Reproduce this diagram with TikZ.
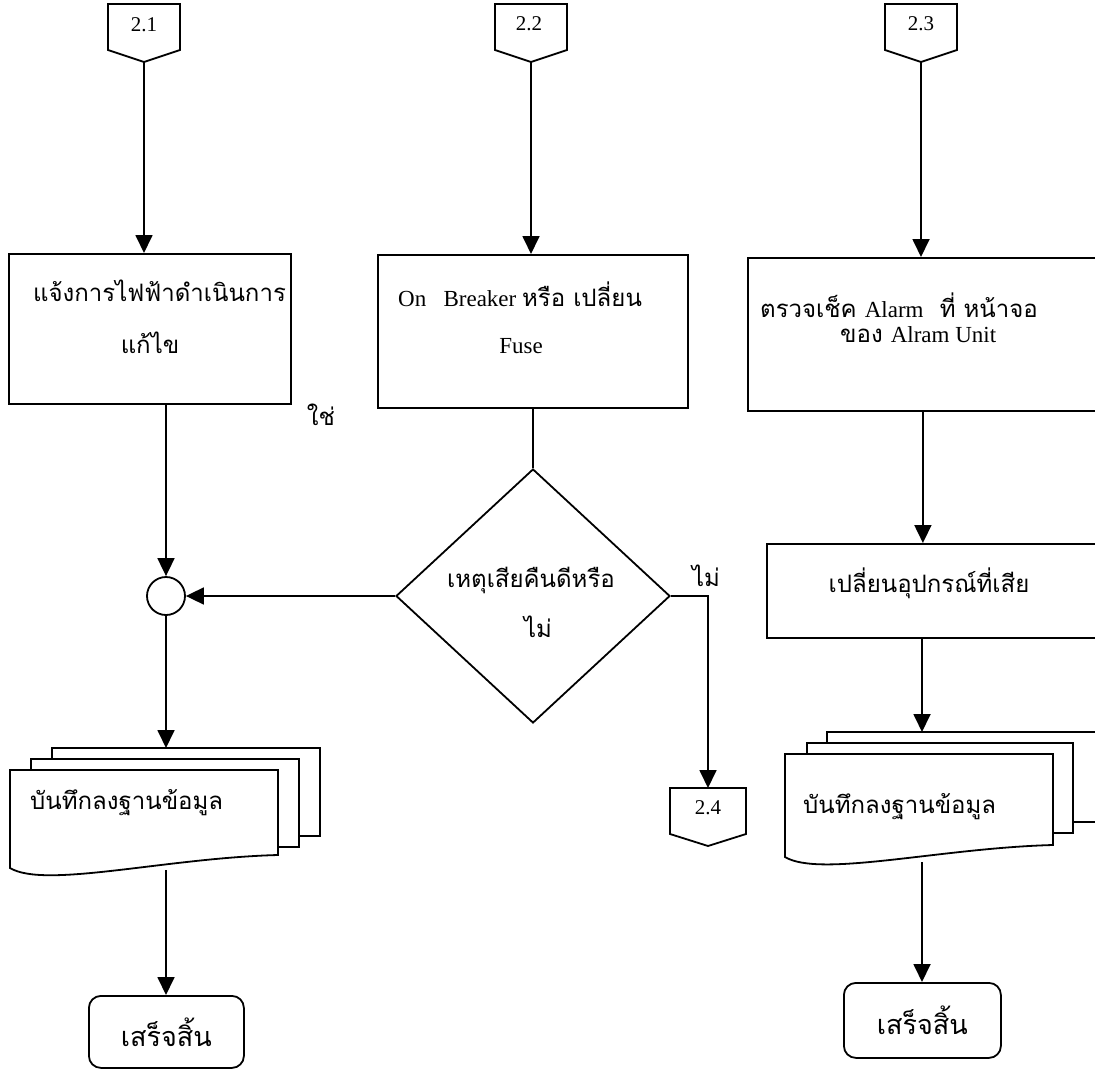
\documentclass[tikz,border=0pt]{standalone}
\usepackage{fontspec}
\setmainfont{Liberation Serif}
\newfontfamily\thaifont[Script=Thai]{Loma}
\usetikzlibrary{arrows.meta,shapes.geometric}

% Thai and Latin text sizes
\newcommand\tf{\thaifont\fontsize{24}{28}\selectfont}
\newcommand\tfl{\thaifont\fontsize{27}{30}\selectfont}
\newcommand\lf{\rmfamily\fontsize{23}{27}\selectfont}

\tikzset{
  ln/.style={line width=1.8pt},
  flow/.style={ln, -{Triangle[length=18pt,width=17pt]}},
  procbox/.style={draw, ln, rectangle, anchor=north west, inner sep=0pt},
  decision/.style={draw, ln, diamond, inner sep=0pt},
  junction/.style={draw, ln, circle, minimum size=38pt, inner sep=0pt},
  term/.style={draw, ln, rectangle, rounded corners=12pt, anchor=north west, inner sep=0pt},
  page/.style={ln, draw, fill=white, line join=miter},
  txt/.style={inner sep=0pt, font=\tf},
  num/.style={inner sep=0pt, font=\rmfamily\fontsize{21}{24}\selectfont},
}

% off-page connector: centre x, top y, half width, name
\newcommand\offpage[4]{%
  \draw[ln] (#1-#3,#2) -- (#1+#3,#2) -- (#1+#3,#2+46) -- (#1,#2+58)
    -- (#1-#3,#2+46) -- cycle;
  \coordinate (#4top) at (#1,#2);
  \coordinate (#4tip) at (#1,#2+58);
}

\begin{document}
\begin{tikzpicture}[x=1pt,y=-1pt]
\useasboundingbox (0,0) rectangle (1095,1070);
\clip (0,0) rectangle (1095,1070);

% off-page connectors
\offpage{144}{4}{36}{ca}
\offpage{531}{4}{36}{cb}
\offpage{921}{4}{36}{cc}
\offpage{708}{788}{38}{cd}
\node[num] (la) at (144,25) {2.1};
\node[num] (lb) at (529,24) {2.2};
\node[num] (lc) at (921,24) {2.3};
\node[num] (ld) at (708,808) {2.4};

% process boxes
\node[procbox, minimum width=282pt, minimum height=150pt] (b1) at (8,253) {};
\node[procbox, minimum width=310pt, minimum height=153pt] (b2) at (377,254) {};
\node[procbox, minimum width=350pt, minimum height=153pt] (b3) at (747,257) {};
\node[procbox, minimum width=360pt, minimum height=94pt] (b4) at (766,543) {};

\node[txt, anchor=west] (t1a) at (33,291) {แจ้งการไฟฟ้าดำเนินการ};
\node[txt] (t1b) at (150,343) {แก้ไข};
\node[txt, anchor=west] (t2a) at (398,294) {\lf On\ \ \ Breaker {\tf หรือ เปลี่ยน}};
\node[txt] (t2b) at (521,346) {\lf Fuse};
\node[txt, anchor=west] (t3a) at (760,305) {ตรวจเช็ค {\lf Alarm}\ \ ที่ หน้าจอ};
\node[txt, anchor=west] (t3b) at (840,335) {ของ {\lf Alram Unit}};
\node[txt] (t4) at (929,583) {เปลี่ยนอุปกรณ์ที่เสีย};

% decision and junction
\node[decision, minimum width=274pt, minimum height=254pt] (d) at (533,596) {};
\node[txt] (dta) at (531,580) {เหตุเสียคืนดีหรือ};
\node[txt] (dtb) at (538,627) {ไม่};
\node[txt] (yes) at (321,415) {ใช่};
\node[txt] (no) at (706,576) {ไม่};
\node[junction] (j) at (166,596) {};

% stacked documents, left
\filldraw[page] (52,748) rectangle (320,836);
\filldraw[page] (31,759) rectangle (299,847);
\filldraw[page] (10,770) -- (278,770) -- (278,855)
  .. controls (165,858) and (45,889) .. (10,868) -- cycle;
\node[txt, anchor=west] (dl) at (30,803) {บันทึกลงฐานข้อมูล};
\coordinate (dltop) at (166,748);
\coordinate (dlbot) at (166,870);

% stacked documents, right
\filldraw[page] (827,732) rectangle (1130,822);
\filldraw[page] (807,743) rectangle (1073,833);
\filldraw[page] (785,754) -- (1053,754) -- (1053,845)
  .. controls (940,848) and (820,878) .. (785,857) -- cycle;
\node[txt, anchor=west] (dr) at (803,807) {บันทึกลงฐานข้อมูล};
\coordinate (drtop) at (922,732);
\coordinate (drbot) at (922,862);

% terminals
\node[term, minimum width=155pt, minimum height=72pt, font=\tfl] (e1) at (88,995) {เสร็จสิ้น};
\node[term, minimum width=157pt, minimum height=75pt, font=\tfl] (e2) at (843,982) {เสร็จสิ้น};

% connectors
\draw[flow] (catip) -- (catip |- b1.north);
\draw[flow] (cbtip) -- (cbtip |- b2.north);
\draw[flow] (cctip) -- (cctip |- b3.north);
\draw[flow] (j.north |- b1.south) -- (j.north);
\draw[ln] (b2.south) -- (b2.south |- d.north);
\draw[flow] (d.west) -- (j.east);
\draw[flow] (d.east) -- (cdtop |- d.east) -- (cdtop);
\draw[flow] (j.south) -- (dltop);
\draw[flow] (dlbot) -- (dlbot |- e1.north);
\draw[flow] (b3.south) -- (b3.south |- b4.north);
\draw[flow] (drtop |- b4.south) -- (drtop);
\draw[flow] (drbot) -- (drbot |- e2.north);
\end{tikzpicture}
\end{document}
